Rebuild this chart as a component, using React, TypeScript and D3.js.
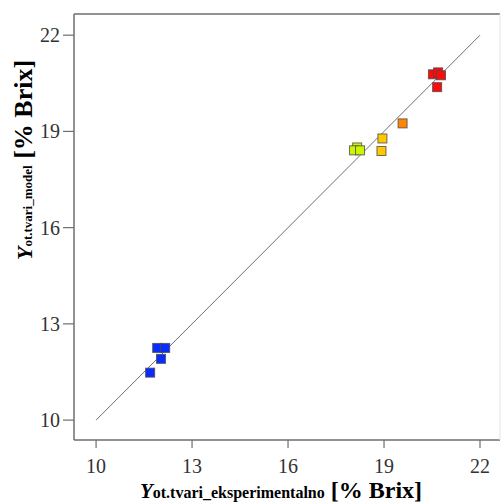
import React from 'react';
import * as d3 from 'd3';

// measured (x) vs model-predicted (y) soluble solids, % Brix
const experimental = [11.69, 11.91, 12.16, 12.03, 18.16, 18.06, 18.25, 18.95, 18.92, 19.58, 20.53, 20.69, 20.66, 20.78];
const predicted = [11.48, 12.25, 12.25, 11.91, 18.5, 18.41, 18.41, 18.78, 18.39, 19.25, 20.78, 20.84, 20.38, 20.75];
const pointColors = ['#0a2cff', '#0a2cff', '#0a2cff', '#0a2cff', '#ccf500', '#ccf500', '#ccf500', '#ffc800', '#ffc800', '#ff8400', '#ff0a0a', '#ff0a0a', '#ff0a0a', '#ff0a0a'];
const tickValues = [10, 13, 16, 19, 22];

const W = 501, H = 504;
const plot = { left: 74, right: 500, top: 14, bottom: 440 };
const font = '"Liberation Serif", "Times New Roman", serif';

export default function App() {
  const x = d3.scaleLinear().domain([9.31, 22.625]).range([plot.left, plot.right]);
  const y = d3.scaleLinear().domain([9.38, 22.66]).range([plot.bottom, plot.top]);
  const sq = 9;

  return (
    <svg width={W} height={H} style={{ position: 'absolute', left: 0, top: 0, background: '#fff' }}>
      {/* frame */}
      <line x1={plot.left} x2={plot.left} y1={plot.top} y2={plot.bottom} stroke="#6e6e6e" strokeWidth={1.5} />
      <line x1={plot.left} x2={plot.right} y1={plot.top} y2={plot.top} stroke="#6e6e6e" strokeWidth={1.5} />
      <line x1={plot.left} x2={plot.right} y1={plot.bottom} y2={plot.bottom} stroke="#6e6e6e" strokeWidth={1.5} />
      <line x1={plot.right} x2={plot.right} y1={plot.top} y2={plot.bottom} stroke="#e4e4e4" strokeWidth={1} />

      {/* x ticks */}
      {tickValues.map(t => (
        <g key={'x' + t}>
          <line x1={x(t)} x2={x(t)} y1={plot.bottom} y2={plot.bottom + 8} stroke="#6e6e6e" strokeWidth={1.2} />
          <text x={x(t)} y={473} textAnchor="middle" fontFamily={font} fontSize={20} fill="#333">{t}</text>
        </g>
      ))}
      {/* y ticks */}
      {tickValues.map(t => (
        <g key={'y' + t}>
          <line x1={plot.left - 11} x2={plot.left} y1={y(t)} y2={y(t)} stroke="#6e6e6e" strokeWidth={1.2} />
          <text x={60} y={y(t) + 7} textAnchor="end" fontFamily={font} fontSize={20} fill="#333">{t}</text>
        </g>
      ))}

      {/* 1:1 line */}
      <line x1={x(10)} y1={y(10)} x2={x(22)} y2={y(22)} stroke="#707070" strokeWidth={1} />

      {/* points */}
      {experimental.map((d, i) => (
        <rect key={i} x={x(d) - sq / 2} y={y(predicted[i]) - sq / 2} width={sq} height={sq}
          fill={pointColors[i]} stroke="#4a4a4a" strokeOpacity={0.8} strokeWidth={1} />
      ))}

      {/* x title */}
      <text x={281} y={498} textAnchor="middle" fontFamily={font} fontWeight="bold" fill="#000">
        <tspan fontSize={21} fontStyle="italic">Y</tspan>
        <tspan fontSize={16}>ot.tvari_eksperimentalno</tspan>
        <tspan fontSize={24}> [% Brix]</tspan>
      </text>
      {/* y title */}
      <text transform={`translate(32,160) rotate(-90)`} textAnchor="middle" fontFamily={font} fontWeight="bold" fill="#000">
        <tspan fontSize={22} fontStyle="italic">Y</tspan>
        <tspan fontSize={13}>ot.tvari_model</tspan>
        <tspan fontSize={26}> [% Brix]</tspan>
      </text>
    </svg>
  );
}
